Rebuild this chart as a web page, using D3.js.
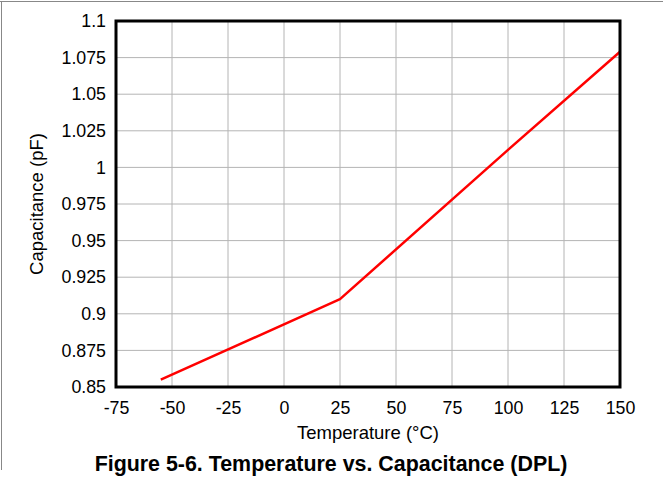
<!DOCTYPE html>
<html><head><meta charset="utf-8">
<script src="https://cdn.jsdelivr.net/npm/d3@7"></script>
<style>html,body{margin:0;padding:0;background:#fff;}svg{display:block;}</style>
</head><body>
<script>
const temps = [-55, 25, 100, 150];
const caps = [0.855, 0.910, 1.012, 1.079];
const xTicks = [-75, -50, -25, 0, 25, 50, 75, 100, 125, 150];
const yTicks = [0.85, 0.875, 0.9, 0.925, 0.95, 0.975, 1, 1.025, 1.05, 1.075, 1.1];
const xTitle = "Temperature (°C)";
const yTitle = "Capacitance (pF)";
const figTitle = "Figure 5-6. Temperature vs. Capacitance (DPL)";

const W = 663, H = 477;
const L = 116, R = 620, T = 21, B = 387;
const svg = d3.select("body").append("svg").attr("width", W).attr("height", H);
const font = "'Liberation Sans', Arial, sans-serif";

// outer frame
svg.append("line").attr("x1", 0).attr("x2", W).attr("y1", 1.5).attr("y2", 1.5).attr("stroke", "#888").attr("stroke-width", 1);
svg.append("line").attr("x1", 1.5).attr("x2", 1.5).attr("y1", 1).attr("y2", 470).attr("stroke", "#888").attr("stroke-width", 1);

const x = d3.scaleLinear().domain([-75, 150]).range([L, R]);
const y = d3.scaleLinear().domain([0.85, 1.1]).range([B, T]);

// grid
svg.append("g").selectAll("line").data(xTicks).join("line")
  .attr("x1", d => x(d)).attr("x2", d => x(d)).attr("y1", T).attr("y2", B)
  .attr("stroke", "#b4b4b4").attr("stroke-width", 1);
svg.append("g").selectAll("line").data(yTicks).join("line")
  .attr("x1", L).attr("x2", R).attr("y1", d => y(d)).attr("y2", d => y(d))
  .attr("stroke", "#b4b4b4").attr("stroke-width", 1);

// axes labels via d3 axes
const xAxis = svg.append("g").attr("transform", `translate(0,${B})`)
  .call(d3.axisBottom(x).tickValues(xTicks).tickSize(0).tickPadding(14).tickFormat(d => d));
const yAxis = svg.append("g").attr("transform", `translate(${L},0)`)
  .call(d3.axisLeft(y).tickValues(yTicks).tickSize(0).tickPadding(10).tickFormat(d => d3.format("")(+d.toFixed(3))));
[xAxis, yAxis].forEach(a => {
  a.select(".domain").remove();
  a.selectAll("text").attr("font-family", font).attr("font-size", 17.8).attr("fill", "#000");
});

// data line
const line = d3.line().x((d, i) => x(temps[i])).y((d, i) => y(caps[i]));
svg.append("path").datum(caps).attr("d", line).attr("fill", "none")
  .attr("stroke", "#ff0000").attr("stroke-width", 2.5).attr("stroke-linejoin", "round");

// frame
svg.append("rect").attr("x", L).attr("y", T).attr("width", R - L).attr("height", B - T)
  .attr("fill", "none").attr("stroke", "#000").attr("stroke-width", 3);

// titles
svg.append("text").attr("x", 368).attr("y", 439).attr("text-anchor", "middle")
  .attr("font-family", font).attr("font-size", 18.5).text(xTitle);
svg.append("text").attr("transform", `translate(43,${(T + B) / 2}) rotate(-90)`).attr("text-anchor", "middle")
  .attr("font-family", font).attr("font-size", 18.5).text(yTitle);
svg.append("text").attr("x", 331).attr("y", 471).attr("text-anchor", "middle")
  .attr("font-family", font).attr("font-size", 21.4).attr("font-weight", "bold").text(figTitle);
</script>
</body></html>
